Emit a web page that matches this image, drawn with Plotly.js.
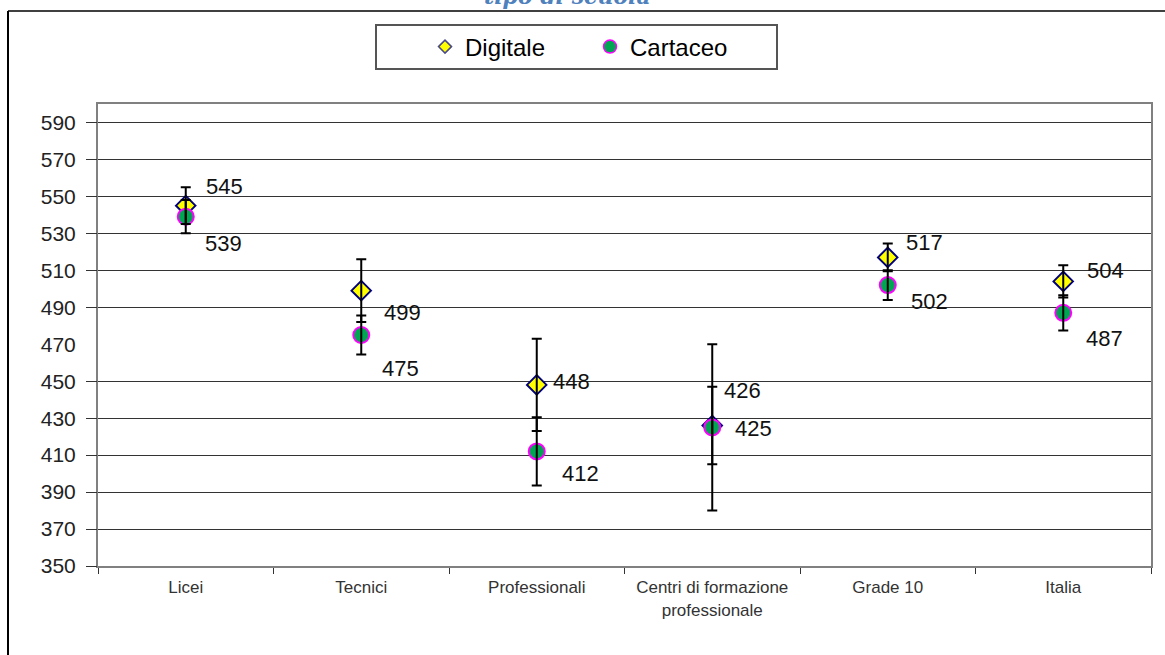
<!DOCTYPE html>
<html>
<head>
<meta charset="utf-8">
<script src="https://cdn.plot.ly/plotly-3.0.1.min.js"></script>
<style>html,body{margin:0;padding:0;background:#fff;}#chart{width:1165px;height:655px;}</style>
</head>
<body>
<div id="chart"></div>
<script>
// ---- data ----
const categories = ['Licei', 'Tecnici', 'Professionali', 'Centri di formazione<br>professionale', 'Grade 10', 'Italia'];
const digitale = [545, 499, 448, 426, 517, 504];
const cartaceo = [539, 475, 412, 425, 502, 487];
const digitaleErr = [10, 17, 25, 21, 7.5, 8.7];
const cartaceoErr = [9, 10.5, 18.5, 45, 8, 9.5];
const yTickVals = [350, 370, 390, 410, 430, 450, 470, 490, 510, 530, 550, 570, 590];
const gridVals = [350, 370, 390, 410, 430, 450, 490, 510, 530, 550, 570, 590];
const seriesNames = ['Digitale', 'Cartaceo'];
const titleText = 'tipo di scuola';

// label offsets (px) relative to each point
const digitaleLabelShift = [[39, 19], [41, -22], [35, 3], [30, 35], [37, 15], [42, 11]];
const cartaceoLabelShift = [[38, -27], [39, -33], [44, -22], [41, -1], [42, -16], [41, -26]];

const font = 'Liberation Sans, Arial, sans-serif';
const errStyle = (arr) => ({type: 'data', array: arr, visible: true, color: '#000', thickness: 2, width: 5});

const digMarker = {symbol: 'diamond', size: 15, color: '#FFFF00', line: {color: '#000080', width: 2}};
const carMarker = {symbol: 'circle', size: 16, color: '#00A651', line: {color: '#FF00FF', width: 2}};

const traces = [
  // error bars first so all markers sit on top of them
  {x: categories, y: digitale, type: 'scatter', mode: 'markers', yaxis: 'y2', showlegend: false, hoverinfo: 'skip',
   marker: {size: 1, color: 'rgba(0,0,0,0)'}, error_y: errStyle(digitaleErr)},
  {x: categories, y: cartaceo, type: 'scatter', mode: 'markers', yaxis: 'y2', showlegend: false, hoverinfo: 'skip',
   marker: {size: 1, color: 'rgba(0,0,0,0)'}, error_y: errStyle(cartaceoErr)},
  {x: categories, y: digitale, name: seriesNames[0], type: 'scatter', mode: 'markers', showlegend: false, marker: digMarker},
  {x: categories, y: cartaceo, name: seriesNames[1], type: 'scatter', mode: 'markers', showlegend: false, marker: carMarker},
  // legend-only entries with the smaller symbols of the reference legend
  {x: [null], y: [null], name: seriesNames[0], type: 'scatter', mode: 'markers',
   marker: {symbol: 'diamond', size: 10, color: '#FFFF00', line: {color: '#4A4A8A', width: 1.5}}},
  {x: [null], y: [null], name: seriesNames[1], type: 'scatter', mode: 'markers',
   marker: {symbol: 'circle', size: 13, color: '#00A651', line: {color: '#FF00FF', width: 1.5}}}
];

const annotations = [];
digitale.forEach((v, i) => annotations.push({x: categories[i], y: v, xref: 'x', yref: 'y', text: String(v), showarrow: false,
  xshift: digitaleLabelShift[i][0], yshift: digitaleLabelShift[i][1], font: {family: font, size: 22, color: '#111'}}));
cartaceo.forEach((v, i) => annotations.push({x: categories[i], y: v, xref: 'x', yref: 'y', text: String(v), showarrow: false,
  xshift: cartaceoLabelShift[i][0], yshift: cartaceoLabelShift[i][1], font: {family: font, size: 22, color: '#111'}}));

// layout geometry: plot area from x=98..1151, y=104..566
const W = 1165, H = 655, L = 98, R = 14, T = 104, B = 89;
const pw = W - L - R, ph = H - T - B;
const px = (x) => (x - L) / pw;
const py = (y) => 1 + (T - y) / ph;

annotations.push({xref: 'paper', yref: 'paper', x: px(567), y: py(-4), xanchor: 'center', yanchor: 'middle',
  text: titleText, showarrow: false,
  font: {family: 'DejaVu Serif, Liberation Serif, serif', size: 22, color: '#4F81BD', weight: 'bold', style: 'italic'}});

const shapes = [
  // outer frame (left and top edges visible)
  {type: 'line', xref: 'paper', yref: 'paper', x0: px(8), x1: px(8), y0: py(11), y1: py(700), line: {color: '#000', width: 2}},
  {type: 'line', xref: 'paper', yref: 'paper', x0: px(8), x1: px(1200), y0: py(11), y1: py(11), line: {color: '#000', width: 1.5}},
  // legend box
  {type: 'rect', xref: 'paper', yref: 'paper', x0: px(376), x1: px(777), y0: py(25), y1: py(69),
   line: {color: '#555', width: 2}, fillcolor: '#fff', layer: 'below'}
];

const layout = {
  width: W, height: H,
  margin: {l: L, r: R, t: T, b: B, pad: 0},
  paper_bgcolor: '#fff', plot_bgcolor: '#fff',
  showlegend: true,
  legend: {orientation: 'h', x: px(425), xanchor: 'left', y: py(47), yanchor: 'middle',
    bgcolor: 'rgba(0,0,0,0)', borderwidth: 0, entrywidth: 120,
    font: {family: font, size: 24, color: '#000'}},
  xaxis: {type: 'category', range: [-0.5, 5.5], showgrid: false, zeroline: false,
    showline: true, mirror: true, linecolor: '#808080', linewidth: 2,
    ticks: 'outside', tickson: 'boundaries', ticklen: 6, tickcolor: '#333', tickwidth: 1,
    ticklabelstandoff: 5,
    tickfont: {family: font, size: 17, color: '#333'}, fixedrange: true},
  yaxis: {range: [350, 600], tickvals: yTickVals, ticktext: yTickVals.map(String), showgrid: false, zeroline: false,
    showline: true, mirror: true, linecolor: '#808080', linewidth: 2,
    ticks: '', ticklabelstandoff: 16,
    tickfont: {family: font, size: 21, color: '#222'}, fixedrange: true},
  yaxis2: {range: [350, 600], overlaying: 'y', side: 'left', tickvals: gridVals, showticklabels: false,
    showgrid: true, gridcolor: '#333', gridwidth: 1, zeroline: false, showline: false,
    ticks: 'outside', ticklen: 11, tickcolor: '#333', tickwidth: 1, fixedrange: true},
  annotations: annotations,
  shapes: shapes
};

Plotly.newPlot('chart', traces, layout, {displayModeBar: false, staticPlot: true});
</script>
</body>
</html>
